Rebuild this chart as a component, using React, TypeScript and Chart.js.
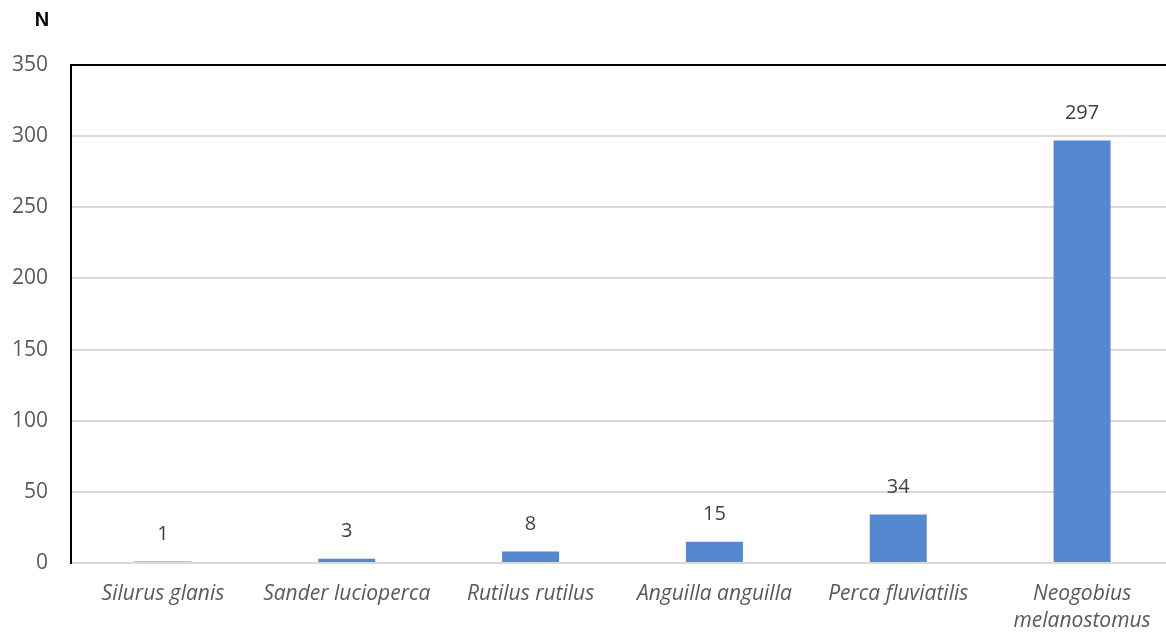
import React, { useEffect, useRef } from "react";
import { Chart, registerables } from "chart.js";

Chart.register(...registerables);

const categories: (string | string[])[] = [
  "Silurus glanis",
  "Sander lucioperca",
  "Rutilus rutilus",
  "Anguilla anguilla",
  "Perca fluviatilis",
  ["Neogobius", "melanostomus"],
];
const counts = [1, 3, 8, 15, 34, 297];
const yTicks = [0, 50, 100, 150, 200, 250, 300, 350];
const yAxisTitle = "N";

const FONT = "'Open Sans', 'Noto Sans', sans-serif";

export default function App() {
  const ref = useRef<HTMLCanvasElement | null>(null);
  useEffect(() => {
    document.body.style.margin = "0";
    document.body.style.overflow = "hidden";
    const overlay = {
      id: "overlay",
      afterDatasetsDraw(chart: any) {
        const { ctx, chartArea } = chart;
        ctx.save();
        ctx.strokeStyle = "#000";
        ctx.lineWidth = 2;
        ctx.beginPath();
        ctx.moveTo(chartArea.left, chartArea.top);
        ctx.lineTo(chartArea.right, chartArea.top);
        ctx.stroke();
        const meta = chart.getDatasetMeta(0);
        ctx.fillStyle = "#404040";
        ctx.font = `20px ${FONT}`;
        ctx.textAlign = "center";
        ctx.textBaseline = "middle";
        meta.data.forEach((bar: any, i: number) => {
          ctx.fillText(String(counts[i]), bar.x, bar.y - 27);
        });
        ctx.fillStyle = "#000";
        ctx.font = `bold 20px 'Liberation Sans', Arial, sans-serif`;
        ctx.fillText(yAxisTitle, 42, 20);
        ctx.restore();
      },
    };
    const chart = new Chart(ref.current!, {
      type: "bar",
      data: {
        labels: categories,
        datasets: [
          {
            data: counts,
            backgroundColor: "#5588d0",
            borderWidth: 0,
            barPercentage: 0.62,
            categoryPercentage: 0.5,
          },
        ],
      },
      plugins: [overlay],
      options: {
        animation: false,
        responsive: false,
        maintainAspectRatio: false,
        layout: { padding: { top: 65, right: 0, left: 0, bottom: 0 } },
        plugins: { legend: { display: false }, tooltip: { enabled: false } },
        scales: {
          x: {
            afterFit: (s: any) => {
              s.height = 69;
            },
            grid: { display: false },
            border: { color: "#d9d9d9", width: 2 },
            ticks: {
              color: "#595959",
              font: { family: FONT, size: 21, style: "italic", lineHeight: 1.3 },
              padding: 9,
              maxRotation: 0,
              autoSkip: false,
            },
          },
          y: {
            min: 0,
            max: 350,
            afterFit: (s: any) => {
              s.width = 71;
            },
            afterBuildTicks: (s: any) => {
              s.ticks = yTicks.map((v) => ({ value: v }));
            },
            grid: { color: "#d9d9d9", lineWidth: 2, drawTicks: false },
            border: { color: "#000", width: 2 },
            ticks: {
              color: "#595959",
              font: { family: FONT, size: 21 },
              padding: 23,
            },
          },
        },
      },
    });
    return () => chart.destroy();
  }, []);
  return (
    <div style={{ width: 1174, height: 632, overflow: "hidden" }}>
      <canvas ref={ref} width={1174} height={632} style={{ display: "block" }} />
    </div>
  );
}
